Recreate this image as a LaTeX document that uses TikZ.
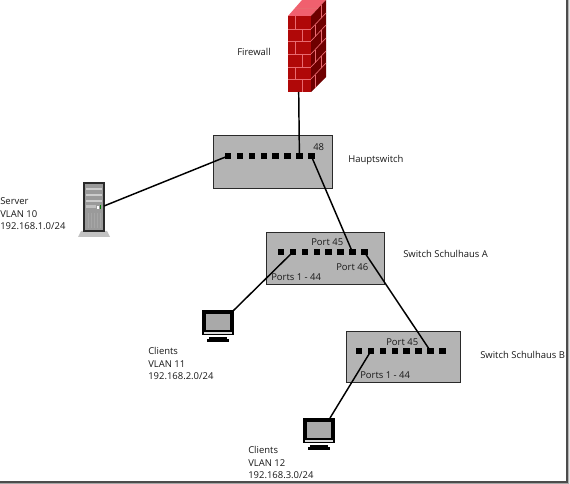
\documentclass[tikz,border=0pt]{standalone}
\usepackage{fontspec}
\setmainfont{Open Sans}
\usetikzlibrary{positioning,calc}
\definecolor{boxgray}{HTML}{B4B4B4}
\definecolor{edgegray}{HTML}{2A2A2A}
\definecolor{brickfront}{HTML}{B00808}
\definecolor{brickside}{HTML}{6E0000}
\definecolor{bricktop}{HTML}{F0606E}
\definecolor{mortar}{HTML}{E86A70}
\definecolor{towergray}{HTML}{9A9A9A}
\tikzset{
 switchbox/.style={draw=edgegray, fill=boxgray, line width=0.8pt, anchor=north west, inner sep=0pt},
 portnode/.style={fill=black, minimum size=4.8pt, inner sep=0pt},
 txt/.style={font=\fontsize{7.1}{9.4}\selectfont, text=black!90, inner sep=0pt, align=left},
 link/.style={line width=1.1pt, black},
 brickline/.style={mortar, line width=0.5pt},
 pics/monitor/.style={code={
  \fill[black] (0,0) rectangle (32,25);
  \fill[towergray!85] (4,4) rectangle (28,20);
  \fill[white!85!black] (2,22) rectangle (30,24);
  \fill[black] (7,27) rectangle (25,29);
  \fill[black] (5,29) rectangle (27,32);
 }},
 pics/server/.style={code={
  \fill[towergray!60] (-2,49) -- (24,49) -- (27,55) -- (-5,55) -- cycle;
  \fill[edgegray] (0,0) rectangle (22,50);
  \fill[towergray] (2,2) rectangle (20,48);
  \foreach \yy in {7,13,19} \draw[white!80!black, line width=0.8pt] (3,\yy) -- (19,\yy);
  \fill[white!75!black] (3,23) rectangle (13,26);
  \fill[white] (14,24) rectangle (16,27);
  \fill[green!50!black] (17,23) rectangle (18,27);
  \foreach \xx in {5,8,...,17} \draw[white!65!black, line width=0.7pt] (\xx,31) -- (\xx,46);
 }}
}
\newcommand{\portrow}[3]{% prefix, first x, y
 \foreach \i in {1,...,8} {
  \node[portnode] (#1\i) at ({#2+(\i-1)*11.9},#3) {};
 }
}
\begin{document}
\begin{tikzpicture}[x=0.75pt,y=-0.75pt]
 \useasboundingbox (0,0) rectangle (570,484);
 \fill[white] (0,0) rectangle (570,484);

 % firewall
 \fill[bricktop] (288,16) -- (302,0) -- (326,0) -- (311,16) -- cycle;
 \fill[brickside] (311,16) -- (326,0) -- (326,77) -- (311,92) -- cycle;
 \fill[brickfront] (288,16) rectangle (311,92);
 \foreach \yy in {29,41,54,67,79} {
  \draw[brickline] (288,\yy) -- (311,\yy);
  \draw[brickline] (311,\yy) -- (326,\yy-16);
 }
 \foreach \xx/\ya/\yb in {295/16/29,302/29/41,295/41/54,302/54/67,295/67/79,302/79/92} {
  \draw[brickline] (\xx,\ya) -- (\xx,\yb);
 }
 \foreach \xx/\ya/\yb in {321/5.3/18.3,315/24.7/36.7,321/30.3/43.3,315/49.7/62.7,321/56.3/68.3,315/74.7/87.7} {
  \draw[brickline] (\xx,\ya) -- (\xx,\yb);
 }
 \draw[brickline] (295,8) -- (318,8);
 \coordinate (fwfoot) at (298.7,92);

 % switches
 \node[switchbox, minimum width=89pt, minimum height=39.5pt] (haupt) at (213,135) {};
 \node[switchbox, minimum width=88.5pt, minimum height=39pt] (swa) at (266,232) {};
 \node[switchbox, minimum width=86pt, minimum height=38.5pt] (swb) at (345.5,331) {};
 \portrow{hp}{228}{156}
 \portrow{ap}{281}{252}
 \portrow{bp}{359}{351}

 % devices
 \pic at (83,182) {server};
 \coordinate (srvport) at (104,206);
 \pic at (202,310) {monitor};
 \coordinate (mona) at (233,311);
 \pic at (303,418) {monitor};
 \coordinate (monb) at (330,418);

 % links
 \draw[link] (fwfoot) -- (hp7.center);
 \draw[link] (srvport) -- (hp1.center);
 \draw[link] (hp8.center) -- (ap7.center);
 \draw[link] (ap2.center) -- (mona);
 \draw[link] (ap8.center) -- (bp7.center);
 \draw[link] (bp2.center) -- (monb);

 % labels
 \node[txt, anchor=west] (fwlabel) at (237,52) {Firewall};
 \node[txt, anchor=west] (hauptlabel) at (348,160) {Hauptswitch};
 \node[txt, anchor=west] (port48) at (313,147) {48};
 \node[txt, anchor=west] (apfive) at (311,242) {Port 45};
 \node[txt, anchor=west] (apsix) at (336,267) {Port 46};
 \node[txt, anchor=west] (apall) at (271,277) {Ports 1 - 44};
 \node[txt, anchor=west] (swalabel) at (403,254) {Switch Schulhaus A};
 \node[txt, anchor=west] (bpfive) at (386,342) {Port 45};
 \node[txt, anchor=west] (bpall) at (360,375) {Ports 1 - 44};
 \node[txt, anchor=west] (swblabel) at (480,355) {Switch Schulhaus B};
 \node[txt, anchor=west] (srvlabel) at (0,214) {Server\\VLAN 10\\192.168.1.0/24};
 \node[txt, anchor=west] (claa) at (148,363.5) {Clients\\VLAN 11\\192.168.2.0/24};
 \node[txt, anchor=west] (clab) at (248,462.5) {Clients\\VLAN 12\\192.168.3.0/24};

 % window shadow
 \fill[white] (566,0) rectangle (570,484);
 \fill[white] (0,480.5) rectangle (570,484);
 \fill[black!30] (568,0) rectangle (569,484);
 \fill[black!10] (569,0) rectangle (570,484);
 \fill[black!35] (0,482.5) rectangle (569,483.5);
 \fill[black!10] (0,483.5) rectangle (570,484);
 \fill[black!70] (566,0) rectangle (568,482.5);
 \fill[black!70] (0,480.5) rectangle (568,482.5);
\end{tikzpicture}
\end{document}
